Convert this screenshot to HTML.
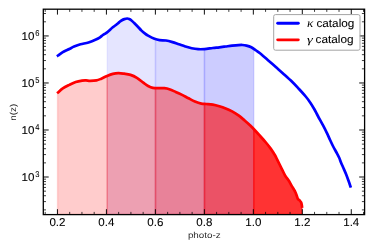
<!DOCTYPE html>
<html><head><meta charset="utf-8"><title>n(z)</title>
<style>html,body{margin:0;padding:0;background:#fff;width:374px;height:249px;overflow:hidden;font-family:"Liberation Sans",sans-serif;}</style>
</head><body>
<svg width="374" height="249" viewBox="0 0 374 249" style="position:absolute;left:0;top:0;will-change:transform;text-rendering:geometricPrecision">
<rect width="374" height="249" fill="#fff"/>
<defs><clipPath id="ax"><rect x="43.30" y="9.20" width="321.30" height="205.40"/></clipPath></defs>
<g clip-path="url(#ax)">
<path d="M107.22,214.60 L107.22,32.18 L112.80,27.30 L116.50,24.50 L119.30,22.10 L121.50,20.50 L124.40,19.10 L127.20,18.50 L129.20,19.00 L131.20,20.20 L134.20,23.00 L137.40,26.20 L141.50,30.60 L144.80,33.40 L148.10,35.60 L154.50,38.80 L155.49,39.05 L155.49,214.60 Z" fill="#0000ff" fill-opacity="0.10" stroke="#0000ff" stroke-opacity="0.062" stroke-width="1.5"/>
<path d="M155.49,214.60 L155.49,39.05 L159.60,40.10 L166.00,40.50 L172.50,42.10 L178.90,44.30 L185.30,46.50 L191.70,48.30 L198.10,49.20 L204.46,49.10 L204.46,214.60 Z" fill="#0000ff" fill-opacity="0.15" stroke="#0000ff" stroke-opacity="0.093" stroke-width="1.5"/>
<path d="M204.46,214.60 L204.46,49.10 L204.50,49.10 L212.80,48.00 L219.30,47.30 L225.70,46.50 L232.10,45.70 L238.50,45.10 L242.50,45.00 L246.50,45.60 L251.30,47.30 L253.73,48.89 L253.73,214.60 Z" fill="#0000ff" fill-opacity="0.20" stroke="#0000ff" stroke-opacity="0.124" stroke-width="1.5"/>
<path d="M57.55,214.60 L57.55,92.40 L58.10,92.40 L62.80,88.40 L69.30,84.90 L75.70,82.00 L82.10,80.60 L86.00,80.40 L90.10,80.80 L96.50,80.40 L101.30,78.70 L106.40,76.30 L107.22,75.99 L107.22,214.60 Z" fill="#ff0000" fill-opacity="0.20" stroke="#ff0000" stroke-opacity="0.124" stroke-width="1.5"/>
<path d="M107.22,214.60 L107.22,75.99 L112.80,73.90 L118.40,73.10 L124.10,73.70 L130.50,74.90 L136.90,77.80 L143.30,82.60 L148.10,86.00 L152.90,87.90 L155.49,88.02 L155.49,214.60 Z" fill="#ff0000" fill-opacity="0.30" stroke="#ff0000" stroke-opacity="0.186" stroke-width="1.5"/>
<path d="M155.49,214.60 L155.49,88.02 L159.60,88.20 L164.40,88.20 L169.30,89.20 L175.70,91.90 L182.10,94.90 L188.50,98.30 L194.90,101.50 L201.30,103.60 L204.46,103.85 L204.46,214.60 Z" fill="#ff0000" fill-opacity="0.40" stroke="#ff0000" stroke-opacity="0.248" stroke-width="1.5"/>
<path d="M204.46,214.60 L204.46,103.85 L206.40,104.00 L212.80,104.70 L219.30,106.30 L225.70,108.50 L232.10,111.40 L238.50,115.40 L244.90,120.70 L249.70,124.90 L253.00,128.30 L253.73,129.09 L253.73,214.60 Z" fill="#ff0000" fill-opacity="0.60" stroke="#ff0000" stroke-opacity="0.372" stroke-width="1.5"/>
<path d="M253.73,214.60 L253.73,129.09 L259.40,135.20 L265.90,142.50 L270.70,148.60 L275.00,155.30 L277.20,159.60 L282.00,169.30 L285.20,175.70 L289.00,181.00 L291.80,186.10 L293.60,189.00 L295.30,192.00 L296.90,196.20 L297.90,199.00 L299.80,200.60 L301.10,202.40 L301.80,205.00 L302.00,206.60 L302.00,214.60 Z" fill="#ff0000" fill-opacity="0.80" stroke="#ff0000" stroke-opacity="0.496" stroke-width="1.5"/>
<path d="M58.00,55.50 C58.80,54.95 61.47,53.03 62.80,52.20 C64.13,51.37 64.92,51.03 66.00,50.50 C67.08,49.97 67.95,49.65 69.30,49.00 C70.65,48.35 72.23,47.38 74.10,46.60 C75.97,45.82 78.10,44.98 80.50,44.30 C82.90,43.62 85.83,43.33 88.50,42.50 C91.17,41.67 94.58,40.17 96.50,39.30 C98.42,38.43 98.93,38.02 100.00,37.30 C101.07,36.58 101.83,35.73 102.90,35.00 C103.97,34.27 104.75,34.18 106.40,32.90 C108.05,31.62 111.12,28.70 112.80,27.30 C114.48,25.90 115.42,25.37 116.50,24.50 C117.58,23.63 118.47,22.77 119.30,22.10 C120.13,21.43 120.65,21.00 121.50,20.50 C122.35,20.00 123.45,19.43 124.40,19.10 C125.35,18.77 126.40,18.52 127.20,18.50 C128.00,18.48 128.53,18.72 129.20,19.00 C129.87,19.28 130.37,19.53 131.20,20.20 C132.03,20.87 133.17,22.00 134.20,23.00 C135.23,24.00 136.18,24.93 137.40,26.20 C138.62,27.47 140.27,29.40 141.50,30.60 C142.73,31.80 143.70,32.57 144.80,33.40 C145.90,34.23 146.48,34.70 148.10,35.60 C149.72,36.50 152.58,38.05 154.50,38.80 C156.42,39.55 157.68,39.82 159.60,40.10 C161.52,40.38 163.85,40.17 166.00,40.50 C168.15,40.83 170.35,41.47 172.50,42.10 C174.65,42.73 176.77,43.57 178.90,44.30 C181.03,45.03 183.17,45.83 185.30,46.50 C187.43,47.17 189.57,47.85 191.70,48.30 C193.83,48.75 195.97,49.07 198.10,49.20 C200.23,49.33 202.05,49.30 204.50,49.10 C206.95,48.90 210.33,48.30 212.80,48.00 C215.27,47.70 217.15,47.55 219.30,47.30 C221.45,47.05 223.57,46.77 225.70,46.50 C227.83,46.23 229.97,45.93 232.10,45.70 C234.23,45.47 236.77,45.22 238.50,45.10 C240.23,44.98 241.17,44.92 242.50,45.00 C243.83,45.08 245.03,45.22 246.50,45.60 C247.97,45.98 249.68,46.48 251.30,47.30 C252.92,48.12 254.75,49.50 256.20,50.50 C257.65,51.50 258.03,51.68 260.00,53.30 C261.97,54.92 265.32,57.87 268.00,60.20 C270.68,62.53 273.42,64.93 276.10,67.30 C278.78,69.67 281.43,71.98 284.10,74.40 C286.77,76.82 289.68,79.43 292.10,81.80 C294.52,84.17 296.33,86.15 298.60,88.60 C300.87,91.05 303.72,94.12 305.70,96.50 C307.68,98.88 309.08,100.82 310.50,102.90 C311.92,104.98 312.97,106.82 314.20,109.00 C315.43,111.18 316.40,113.22 317.90,116.00 C319.40,118.78 321.73,122.93 323.20,125.70 C324.67,128.47 325.55,130.22 326.70,132.60 C327.85,134.98 329.02,137.68 330.10,140.00 C331.18,142.32 332.13,144.42 333.20,146.50 C334.27,148.58 335.50,150.62 336.50,152.50 C337.50,154.38 338.45,156.13 339.20,157.80 C339.95,159.47 340.33,160.88 341.00,162.50 C341.67,164.12 342.37,165.58 343.20,167.50 C344.03,169.42 345.10,171.75 346.00,174.00 C346.90,176.25 347.87,178.95 348.60,181.00 C349.33,183.05 350.10,185.42 350.40,186.30" fill="none" stroke="#0000ff" stroke-width="2.7" stroke-linejoin="round" stroke-linecap="square"/>
<path d="M58.10,92.40 C58.88,91.73 60.93,89.65 62.80,88.40 C64.67,87.15 67.15,85.97 69.30,84.90 C71.45,83.83 73.57,82.72 75.70,82.00 C77.83,81.28 80.38,80.87 82.10,80.60 C83.82,80.33 84.67,80.37 86.00,80.40 C87.33,80.43 88.35,80.80 90.10,80.80 C91.85,80.80 94.63,80.75 96.50,80.40 C98.37,80.05 99.65,79.38 101.30,78.70 C102.95,78.02 104.48,77.10 106.40,76.30 C108.32,75.50 110.80,74.43 112.80,73.90 C114.80,73.37 116.52,73.13 118.40,73.10 C120.28,73.07 122.08,73.40 124.10,73.70 C126.12,74.00 128.37,74.22 130.50,74.90 C132.63,75.58 134.77,76.52 136.90,77.80 C139.03,79.08 141.43,81.23 143.30,82.60 C145.17,83.97 146.50,85.12 148.10,86.00 C149.70,86.88 150.98,87.53 152.90,87.90 C154.82,88.27 157.68,88.15 159.60,88.20 C161.52,88.25 162.78,88.03 164.40,88.20 C166.02,88.37 167.42,88.58 169.30,89.20 C171.18,89.82 173.57,90.95 175.70,91.90 C177.83,92.85 179.97,93.83 182.10,94.90 C184.23,95.97 186.37,97.20 188.50,98.30 C190.63,99.40 192.77,100.62 194.90,101.50 C197.03,102.38 199.38,103.18 201.30,103.60 C203.22,104.02 204.48,103.82 206.40,104.00 C208.32,104.18 210.65,104.32 212.80,104.70 C214.95,105.08 217.15,105.67 219.30,106.30 C221.45,106.93 223.57,107.65 225.70,108.50 C227.83,109.35 229.97,110.25 232.10,111.40 C234.23,112.55 236.37,113.85 238.50,115.40 C240.63,116.95 243.03,119.12 244.90,120.70 C246.77,122.28 248.35,123.63 249.70,124.90 C251.05,126.17 251.38,126.58 253.00,128.30 C254.62,130.02 257.25,132.83 259.40,135.20 C261.55,137.57 264.02,140.27 265.90,142.50 C267.78,144.73 269.18,146.47 270.70,148.60 C272.22,150.73 273.92,153.47 275.00,155.30 C276.08,157.13 276.03,157.27 277.20,159.60 C278.37,161.93 280.67,166.62 282.00,169.30 C283.33,171.98 284.03,173.75 285.20,175.70 C286.37,177.65 287.90,179.27 289.00,181.00 C290.10,182.73 291.03,184.77 291.80,186.10 C292.57,187.43 293.02,188.02 293.60,189.00 C294.18,189.98 294.75,190.80 295.30,192.00 C295.85,193.20 296.47,195.03 296.90,196.20 C297.33,197.37 297.42,198.27 297.90,199.00 C298.38,199.73 299.27,200.03 299.80,200.60 C300.33,201.17 300.77,201.67 301.10,202.40 C301.43,203.13 301.65,204.30 301.80,205.00 C301.95,205.70 301.97,206.33 302.00,206.60" fill="none" stroke="#ff0000" stroke-width="2.7" stroke-linejoin="round" stroke-linecap="square"/>
</g>
<line x1="45.21" y1="214.60" x2="45.21" y2="211.90" stroke="#000" stroke-width="0.75"/>
<line x1="45.21" y1="9.20" x2="45.21" y2="11.90" stroke="#000" stroke-width="0.75"/>
<line x1="57.45" y1="214.60" x2="57.45" y2="209.20" stroke="#000" stroke-width="0.95"/>
<line x1="57.45" y1="9.20" x2="57.45" y2="14.60" stroke="#000" stroke-width="0.95"/>
<line x1="69.69" y1="214.60" x2="69.69" y2="211.90" stroke="#000" stroke-width="0.75"/>
<line x1="69.69" y1="9.20" x2="69.69" y2="11.90" stroke="#000" stroke-width="0.75"/>
<line x1="81.94" y1="214.60" x2="81.94" y2="211.90" stroke="#000" stroke-width="0.75"/>
<line x1="81.94" y1="9.20" x2="81.94" y2="11.90" stroke="#000" stroke-width="0.75"/>
<line x1="94.18" y1="214.60" x2="94.18" y2="211.90" stroke="#000" stroke-width="0.75"/>
<line x1="94.18" y1="9.20" x2="94.18" y2="11.90" stroke="#000" stroke-width="0.75"/>
<line x1="106.42" y1="214.60" x2="106.42" y2="209.20" stroke="#000" stroke-width="0.95"/>
<line x1="106.42" y1="9.20" x2="106.42" y2="14.60" stroke="#000" stroke-width="0.95"/>
<line x1="118.66" y1="214.60" x2="118.66" y2="211.90" stroke="#000" stroke-width="0.75"/>
<line x1="118.66" y1="9.20" x2="118.66" y2="11.90" stroke="#000" stroke-width="0.75"/>
<line x1="130.91" y1="214.60" x2="130.91" y2="211.90" stroke="#000" stroke-width="0.75"/>
<line x1="130.91" y1="9.20" x2="130.91" y2="11.90" stroke="#000" stroke-width="0.75"/>
<line x1="143.15" y1="214.60" x2="143.15" y2="211.90" stroke="#000" stroke-width="0.75"/>
<line x1="143.15" y1="9.20" x2="143.15" y2="11.90" stroke="#000" stroke-width="0.75"/>
<line x1="155.39" y1="214.60" x2="155.39" y2="209.20" stroke="#000" stroke-width="0.95"/>
<line x1="155.39" y1="9.20" x2="155.39" y2="14.60" stroke="#000" stroke-width="0.95"/>
<line x1="167.63" y1="214.60" x2="167.63" y2="211.90" stroke="#000" stroke-width="0.75"/>
<line x1="167.63" y1="9.20" x2="167.63" y2="11.90" stroke="#000" stroke-width="0.75"/>
<line x1="179.88" y1="214.60" x2="179.88" y2="211.90" stroke="#000" stroke-width="0.75"/>
<line x1="179.88" y1="9.20" x2="179.88" y2="11.90" stroke="#000" stroke-width="0.75"/>
<line x1="192.12" y1="214.60" x2="192.12" y2="211.90" stroke="#000" stroke-width="0.75"/>
<line x1="192.12" y1="9.20" x2="192.12" y2="11.90" stroke="#000" stroke-width="0.75"/>
<line x1="204.36" y1="214.60" x2="204.36" y2="209.20" stroke="#000" stroke-width="0.95"/>
<line x1="204.36" y1="9.20" x2="204.36" y2="14.60" stroke="#000" stroke-width="0.95"/>
<line x1="216.60" y1="214.60" x2="216.60" y2="211.90" stroke="#000" stroke-width="0.75"/>
<line x1="216.60" y1="9.20" x2="216.60" y2="11.90" stroke="#000" stroke-width="0.75"/>
<line x1="228.84" y1="214.60" x2="228.84" y2="211.90" stroke="#000" stroke-width="0.75"/>
<line x1="228.84" y1="9.20" x2="228.84" y2="11.90" stroke="#000" stroke-width="0.75"/>
<line x1="241.09" y1="214.60" x2="241.09" y2="211.90" stroke="#000" stroke-width="0.75"/>
<line x1="241.09" y1="9.20" x2="241.09" y2="11.90" stroke="#000" stroke-width="0.75"/>
<line x1="253.33" y1="214.60" x2="253.33" y2="209.20" stroke="#000" stroke-width="0.95"/>
<line x1="253.33" y1="9.20" x2="253.33" y2="14.60" stroke="#000" stroke-width="0.95"/>
<line x1="265.57" y1="214.60" x2="265.57" y2="211.90" stroke="#000" stroke-width="0.75"/>
<line x1="265.57" y1="9.20" x2="265.57" y2="11.90" stroke="#000" stroke-width="0.75"/>
<line x1="277.82" y1="214.60" x2="277.82" y2="211.90" stroke="#000" stroke-width="0.75"/>
<line x1="277.82" y1="9.20" x2="277.82" y2="11.90" stroke="#000" stroke-width="0.75"/>
<line x1="290.06" y1="214.60" x2="290.06" y2="211.90" stroke="#000" stroke-width="0.75"/>
<line x1="290.06" y1="9.20" x2="290.06" y2="11.90" stroke="#000" stroke-width="0.75"/>
<line x1="302.30" y1="214.60" x2="302.30" y2="209.20" stroke="#000" stroke-width="0.95"/>
<line x1="302.30" y1="9.20" x2="302.30" y2="14.60" stroke="#000" stroke-width="0.95"/>
<line x1="314.54" y1="214.60" x2="314.54" y2="211.90" stroke="#000" stroke-width="0.75"/>
<line x1="314.54" y1="9.20" x2="314.54" y2="11.90" stroke="#000" stroke-width="0.75"/>
<line x1="326.79" y1="214.60" x2="326.79" y2="211.90" stroke="#000" stroke-width="0.75"/>
<line x1="326.79" y1="9.20" x2="326.79" y2="11.90" stroke="#000" stroke-width="0.75"/>
<line x1="339.03" y1="214.60" x2="339.03" y2="211.90" stroke="#000" stroke-width="0.75"/>
<line x1="339.03" y1="9.20" x2="339.03" y2="11.90" stroke="#000" stroke-width="0.75"/>
<line x1="351.27" y1="214.60" x2="351.27" y2="209.20" stroke="#000" stroke-width="0.95"/>
<line x1="351.27" y1="9.20" x2="351.27" y2="14.60" stroke="#000" stroke-width="0.95"/>
<line x1="363.51" y1="214.60" x2="363.51" y2="211.90" stroke="#000" stroke-width="0.75"/>
<line x1="363.51" y1="9.20" x2="363.51" y2="11.90" stroke="#000" stroke-width="0.75"/>
<line x1="43.30" y1="209.88" x2="46.00" y2="209.88" stroke="#000" stroke-width="0.75"/>
<line x1="364.60" y1="209.88" x2="361.90" y2="209.88" stroke="#000" stroke-width="0.75"/>
<line x1="43.30" y1="201.60" x2="46.00" y2="201.60" stroke="#000" stroke-width="0.75"/>
<line x1="364.60" y1="201.60" x2="361.90" y2="201.60" stroke="#000" stroke-width="0.75"/>
<line x1="43.30" y1="195.72" x2="46.00" y2="195.72" stroke="#000" stroke-width="0.75"/>
<line x1="364.60" y1="195.72" x2="361.90" y2="195.72" stroke="#000" stroke-width="0.75"/>
<line x1="43.30" y1="191.16" x2="46.00" y2="191.16" stroke="#000" stroke-width="0.75"/>
<line x1="364.60" y1="191.16" x2="361.90" y2="191.16" stroke="#000" stroke-width="0.75"/>
<line x1="43.30" y1="187.44" x2="46.00" y2="187.44" stroke="#000" stroke-width="0.75"/>
<line x1="364.60" y1="187.44" x2="361.90" y2="187.44" stroke="#000" stroke-width="0.75"/>
<line x1="43.30" y1="184.29" x2="46.00" y2="184.29" stroke="#000" stroke-width="0.75"/>
<line x1="364.60" y1="184.29" x2="361.90" y2="184.29" stroke="#000" stroke-width="0.75"/>
<line x1="43.30" y1="181.57" x2="46.00" y2="181.57" stroke="#000" stroke-width="0.75"/>
<line x1="364.60" y1="181.57" x2="361.90" y2="181.57" stroke="#000" stroke-width="0.75"/>
<line x1="43.30" y1="179.16" x2="46.00" y2="179.16" stroke="#000" stroke-width="0.75"/>
<line x1="364.60" y1="179.16" x2="361.90" y2="179.16" stroke="#000" stroke-width="0.75"/>
<line x1="43.30" y1="177.01" x2="48.70" y2="177.01" stroke="#000" stroke-width="0.95"/>
<line x1="364.60" y1="177.01" x2="359.20" y2="177.01" stroke="#000" stroke-width="0.95"/>
<line x1="43.30" y1="162.86" x2="46.00" y2="162.86" stroke="#000" stroke-width="0.75"/>
<line x1="364.60" y1="162.86" x2="361.90" y2="162.86" stroke="#000" stroke-width="0.75"/>
<line x1="43.30" y1="154.58" x2="46.00" y2="154.58" stroke="#000" stroke-width="0.75"/>
<line x1="364.60" y1="154.58" x2="361.90" y2="154.58" stroke="#000" stroke-width="0.75"/>
<line x1="43.30" y1="148.70" x2="46.00" y2="148.70" stroke="#000" stroke-width="0.75"/>
<line x1="364.60" y1="148.70" x2="361.90" y2="148.70" stroke="#000" stroke-width="0.75"/>
<line x1="43.30" y1="144.14" x2="46.00" y2="144.14" stroke="#000" stroke-width="0.75"/>
<line x1="364.60" y1="144.14" x2="361.90" y2="144.14" stroke="#000" stroke-width="0.75"/>
<line x1="43.30" y1="140.42" x2="46.00" y2="140.42" stroke="#000" stroke-width="0.75"/>
<line x1="364.60" y1="140.42" x2="361.90" y2="140.42" stroke="#000" stroke-width="0.75"/>
<line x1="43.30" y1="137.27" x2="46.00" y2="137.27" stroke="#000" stroke-width="0.75"/>
<line x1="364.60" y1="137.27" x2="361.90" y2="137.27" stroke="#000" stroke-width="0.75"/>
<line x1="43.30" y1="134.55" x2="46.00" y2="134.55" stroke="#000" stroke-width="0.75"/>
<line x1="364.60" y1="134.55" x2="361.90" y2="134.55" stroke="#000" stroke-width="0.75"/>
<line x1="43.30" y1="132.14" x2="46.00" y2="132.14" stroke="#000" stroke-width="0.75"/>
<line x1="364.60" y1="132.14" x2="361.90" y2="132.14" stroke="#000" stroke-width="0.75"/>
<line x1="43.30" y1="129.99" x2="48.70" y2="129.99" stroke="#000" stroke-width="0.95"/>
<line x1="364.60" y1="129.99" x2="359.20" y2="129.99" stroke="#000" stroke-width="0.95"/>
<line x1="43.30" y1="115.84" x2="46.00" y2="115.84" stroke="#000" stroke-width="0.75"/>
<line x1="364.60" y1="115.84" x2="361.90" y2="115.84" stroke="#000" stroke-width="0.75"/>
<line x1="43.30" y1="107.56" x2="46.00" y2="107.56" stroke="#000" stroke-width="0.75"/>
<line x1="364.60" y1="107.56" x2="361.90" y2="107.56" stroke="#000" stroke-width="0.75"/>
<line x1="43.30" y1="101.68" x2="46.00" y2="101.68" stroke="#000" stroke-width="0.75"/>
<line x1="364.60" y1="101.68" x2="361.90" y2="101.68" stroke="#000" stroke-width="0.75"/>
<line x1="43.30" y1="97.12" x2="46.00" y2="97.12" stroke="#000" stroke-width="0.75"/>
<line x1="364.60" y1="97.12" x2="361.90" y2="97.12" stroke="#000" stroke-width="0.75"/>
<line x1="43.30" y1="93.40" x2="46.00" y2="93.40" stroke="#000" stroke-width="0.75"/>
<line x1="364.60" y1="93.40" x2="361.90" y2="93.40" stroke="#000" stroke-width="0.75"/>
<line x1="43.30" y1="90.25" x2="46.00" y2="90.25" stroke="#000" stroke-width="0.75"/>
<line x1="364.60" y1="90.25" x2="361.90" y2="90.25" stroke="#000" stroke-width="0.75"/>
<line x1="43.30" y1="87.53" x2="46.00" y2="87.53" stroke="#000" stroke-width="0.75"/>
<line x1="364.60" y1="87.53" x2="361.90" y2="87.53" stroke="#000" stroke-width="0.75"/>
<line x1="43.30" y1="85.12" x2="46.00" y2="85.12" stroke="#000" stroke-width="0.75"/>
<line x1="364.60" y1="85.12" x2="361.90" y2="85.12" stroke="#000" stroke-width="0.75"/>
<line x1="43.30" y1="82.97" x2="48.70" y2="82.97" stroke="#000" stroke-width="0.95"/>
<line x1="364.60" y1="82.97" x2="359.20" y2="82.97" stroke="#000" stroke-width="0.95"/>
<line x1="43.30" y1="68.82" x2="46.00" y2="68.82" stroke="#000" stroke-width="0.75"/>
<line x1="364.60" y1="68.82" x2="361.90" y2="68.82" stroke="#000" stroke-width="0.75"/>
<line x1="43.30" y1="60.54" x2="46.00" y2="60.54" stroke="#000" stroke-width="0.75"/>
<line x1="364.60" y1="60.54" x2="361.90" y2="60.54" stroke="#000" stroke-width="0.75"/>
<line x1="43.30" y1="54.66" x2="46.00" y2="54.66" stroke="#000" stroke-width="0.75"/>
<line x1="364.60" y1="54.66" x2="361.90" y2="54.66" stroke="#000" stroke-width="0.75"/>
<line x1="43.30" y1="50.10" x2="46.00" y2="50.10" stroke="#000" stroke-width="0.75"/>
<line x1="364.60" y1="50.10" x2="361.90" y2="50.10" stroke="#000" stroke-width="0.75"/>
<line x1="43.30" y1="46.38" x2="46.00" y2="46.38" stroke="#000" stroke-width="0.75"/>
<line x1="364.60" y1="46.38" x2="361.90" y2="46.38" stroke="#000" stroke-width="0.75"/>
<line x1="43.30" y1="43.23" x2="46.00" y2="43.23" stroke="#000" stroke-width="0.75"/>
<line x1="364.60" y1="43.23" x2="361.90" y2="43.23" stroke="#000" stroke-width="0.75"/>
<line x1="43.30" y1="40.51" x2="46.00" y2="40.51" stroke="#000" stroke-width="0.75"/>
<line x1="364.60" y1="40.51" x2="361.90" y2="40.51" stroke="#000" stroke-width="0.75"/>
<line x1="43.30" y1="38.10" x2="46.00" y2="38.10" stroke="#000" stroke-width="0.75"/>
<line x1="364.60" y1="38.10" x2="361.90" y2="38.10" stroke="#000" stroke-width="0.75"/>
<line x1="43.30" y1="35.95" x2="48.70" y2="35.95" stroke="#000" stroke-width="0.95"/>
<line x1="364.60" y1="35.95" x2="359.20" y2="35.95" stroke="#000" stroke-width="0.95"/>
<line x1="43.30" y1="21.80" x2="46.00" y2="21.80" stroke="#000" stroke-width="0.75"/>
<line x1="364.60" y1="21.80" x2="361.90" y2="21.80" stroke="#000" stroke-width="0.75"/>
<line x1="43.30" y1="13.52" x2="46.00" y2="13.52" stroke="#000" stroke-width="0.75"/>
<line x1="364.60" y1="13.52" x2="361.90" y2="13.52" stroke="#000" stroke-width="0.75"/>
<rect x="43.30" y="9.20" width="321.30" height="205.40" fill="none" stroke="#000" stroke-width="1.3"/>
<text x="57.45" y="225.7" font-family="Liberation Sans, sans-serif" stroke="#000" stroke-width="0.07" font-size="11.4" text-anchor="middle" textLength="16.1" lengthAdjust="spacingAndGlyphs" fill="#000">0.2</text>
<text x="106.42" y="225.7" font-family="Liberation Sans, sans-serif" stroke="#000" stroke-width="0.07" font-size="11.4" text-anchor="middle" textLength="16.1" lengthAdjust="spacingAndGlyphs" fill="#000">0.4</text>
<text x="155.39" y="225.7" font-family="Liberation Sans, sans-serif" stroke="#000" stroke-width="0.07" font-size="11.4" text-anchor="middle" textLength="16.1" lengthAdjust="spacingAndGlyphs" fill="#000">0.6</text>
<text x="204.36" y="225.7" font-family="Liberation Sans, sans-serif" stroke="#000" stroke-width="0.07" font-size="11.4" text-anchor="middle" textLength="16.1" lengthAdjust="spacingAndGlyphs" fill="#000">0.8</text>
<text x="253.33" y="225.7" font-family="Liberation Sans, sans-serif" stroke="#000" stroke-width="0.07" font-size="11.4" text-anchor="middle" textLength="16.1" lengthAdjust="spacingAndGlyphs" fill="#000">1.0</text>
<text x="302.30" y="225.7" font-family="Liberation Sans, sans-serif" stroke="#000" stroke-width="0.07" font-size="11.4" text-anchor="middle" textLength="16.1" lengthAdjust="spacingAndGlyphs" fill="#000">1.2</text>
<text x="351.27" y="225.7" font-family="Liberation Sans, sans-serif" stroke="#000" stroke-width="0.07" font-size="11.4" text-anchor="middle" textLength="16.1" lengthAdjust="spacingAndGlyphs" fill="#000">1.4</text>
<text x="34.5" y="181.21" font-family="Liberation Sans, sans-serif" stroke="#000" stroke-width="0.07" font-size="11.4" text-anchor="end" textLength="12.9" lengthAdjust="spacingAndGlyphs" fill="#000">10</text>
<text x="35.2" y="177.11" font-family="Liberation Sans, sans-serif" stroke="#000" stroke-width="0.07" font-size="8.5" text-anchor="start" textLength="4.2" lengthAdjust="spacingAndGlyphs" fill="#000">3</text>
<text x="34.5" y="134.19" font-family="Liberation Sans, sans-serif" stroke="#000" stroke-width="0.07" font-size="11.4" text-anchor="end" textLength="12.9" lengthAdjust="spacingAndGlyphs" fill="#000">10</text>
<text x="35.2" y="130.09" font-family="Liberation Sans, sans-serif" stroke="#000" stroke-width="0.07" font-size="8.5" text-anchor="start" textLength="4.2" lengthAdjust="spacingAndGlyphs" fill="#000">4</text>
<text x="34.5" y="87.17" font-family="Liberation Sans, sans-serif" stroke="#000" stroke-width="0.07" font-size="11.4" text-anchor="end" textLength="12.9" lengthAdjust="spacingAndGlyphs" fill="#000">10</text>
<text x="35.2" y="83.07" font-family="Liberation Sans, sans-serif" stroke="#000" stroke-width="0.07" font-size="8.5" text-anchor="start" textLength="4.2" lengthAdjust="spacingAndGlyphs" fill="#000">5</text>
<text x="34.5" y="40.15" font-family="Liberation Sans, sans-serif" stroke="#000" stroke-width="0.07" font-size="11.4" text-anchor="end" textLength="12.9" lengthAdjust="spacingAndGlyphs" fill="#000">10</text>
<text x="35.2" y="36.05" font-family="Liberation Sans, sans-serif" stroke="#000" stroke-width="0.07" font-size="8.5" text-anchor="start" textLength="4.2" lengthAdjust="spacingAndGlyphs" fill="#000">6</text>
<text x="204.3" y="238.2" font-family="Liberation Sans, sans-serif" font-size="8.6" text-anchor="middle" textLength="32.8" lengthAdjust="spacingAndGlyphs" fill="#2a2a2a">photo-z</text>
<text transform="translate(16.1,112.2) rotate(-90)" font-family="Liberation Sans, sans-serif" font-size="8.6" text-anchor="middle" textLength="16.9" lengthAdjust="spacingAndGlyphs" fill="#2a2a2a">n(z)</text>
<rect x="273.7" y="14.6" width="86.3" height="35.6" rx="1.8" ry="1.8" fill="#fff" fill-opacity="0.8" stroke="#a4a4a4" stroke-width="1.0"/>
<line x1="277.7" y1="23.3" x2="298.3" y2="23.3" stroke="#0000ff" stroke-width="2.9" stroke-linecap="round"/>
<line x1="277.7" y1="39.85" x2="298.3" y2="39.85" stroke="#ff0000" stroke-width="2.9" stroke-linecap="round"/>
<text x="307.1" y="26.7" font-family="Liberation Serif, serif" font-style="italic" font-size="11.8" textLength="6.3" lengthAdjust="spacingAndGlyphs" fill="#000">κ</text>
<text x="316.4" y="26.7" font-family="Liberation Sans, sans-serif" stroke="#000" stroke-width="0.07" font-size="11.3" textLength="38.0" lengthAdjust="spacingAndGlyphs" fill="#000">catalog</text>
<text x="306.9" y="43.0" font-family="Liberation Serif, serif" font-style="italic" font-size="10.8" textLength="5.8" lengthAdjust="spacingAndGlyphs" fill="#000">γ</text>
<text x="315.6" y="43.3" font-family="Liberation Sans, sans-serif" stroke="#000" stroke-width="0.07" font-size="11.3" textLength="38.0" lengthAdjust="spacingAndGlyphs" fill="#000">catalog</text>
</svg>
</body></html>
